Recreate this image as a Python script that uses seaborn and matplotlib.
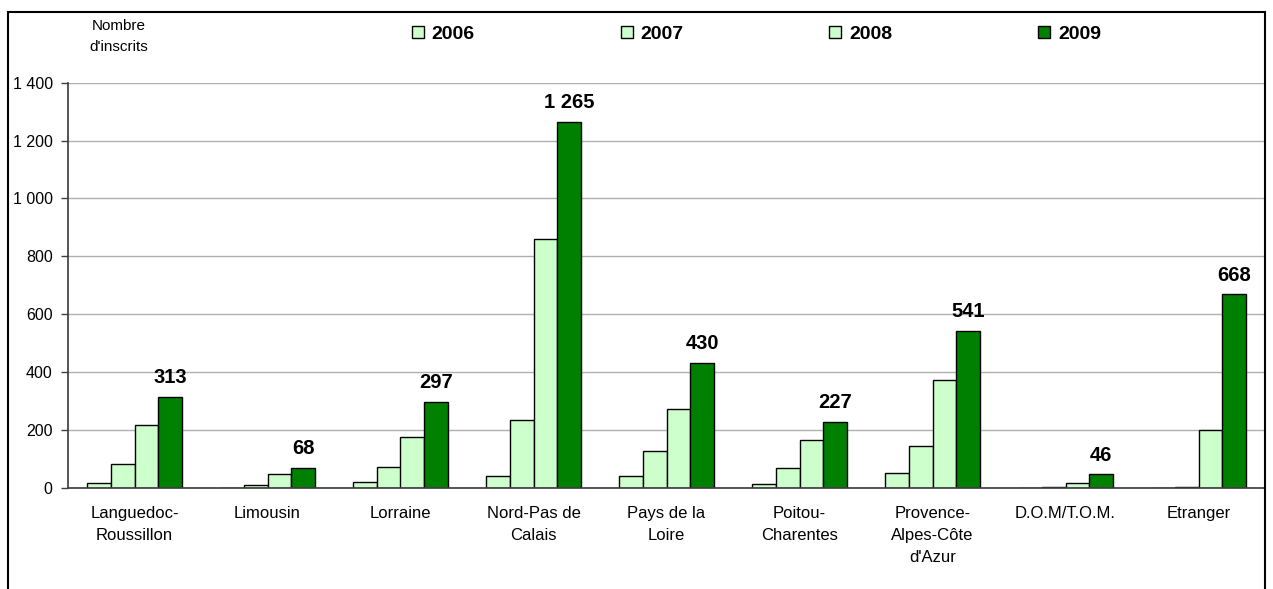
import numpy as np
import pandas as pd
import matplotlib
matplotlib.use('Agg')
import matplotlib.pyplot as plt
from matplotlib.patches import Rectangle
from matplotlib.ticker import FuncFormatter, FixedLocator
import seaborn as sns

regions = ["Languedoc-\nRoussillon", "Limousin", "Lorraine", "Nord-Pas de\nCalais",
           "Pays de la\nLoire", "Poitou-\nCharentes", "Provence-\nAlpes-Côte\nd'Azur",
           "D.O.M/T.O.M.", "Etranger"]
years = ["2006", "2007", "2008", "2009"]
v2006 = [15, 0, 21, 40, 40, 14, 52, 0, 0]
v2007 = [82, 9, 71, 233, 127, 67, 145, 3, 3]
v2008 = [218, 46, 175, 859, 272, 165, 372, 15, 200]
v2009 = [313, 68, 297, 1265, 430, 227, 541, 46, 668]
yticks = [0, 200, 400, 600, 800, 1000, 1200, 1400]

light = "#CCFFCC"
dark = "#008000"

sns.set_theme(style="white")
plt.rcParams['font.family'] = ['Liberation Sans', 'DejaVu Sans']
plt.rcParams['text.color'] = 'black'
plt.rcParams['xtick.labelcolor'] = 'black'
plt.rcParams['ytick.labelcolor'] = 'black'

rows = []
for year, vals in zip(years, [v2006, v2007, v2008, v2009]):
    for reg, v in zip(regions, vals):
        rows.append({'region': reg, 'year': year, 'n': v})
df = pd.DataFrame(rows)

fig = plt.figure(figsize=(12.73, 5.89), dpi=100)
ax = fig.add_axes([68 / 1273, 1 - 487.7 / 589, (1265 - 68) / 1273, (487.7 - 82.7) / 589])

sns.barplot(data=df, x='region', y='n', hue='year', order=regions, hue_order=years,
            palette=[light, light, light, dark], width=0.72, gap=0,
            edgecolor='black', linewidth=1.0, saturation=1, errorbar=None, ax=ax)

ax.set_ylim(0, 1400)
ax.set_xlim(-0.5, len(regions) - 0.5)
ax.yaxis.set_major_locator(FixedLocator(yticks))
ax.yaxis.set_major_formatter(FuncFormatter(lambda v, p: f"{int(v):,}".replace(",", " ")))
ax.grid(axis='y', color='#b0b0b0', linewidth=1)
ax.set_axisbelow(True)
ax.set_xlabel("")
ax.set_ylabel("")

# category boundaries as ticks, names in the middle
ax.set_xticks(np.arange(len(regions)))
ax.set_xticklabels(regions, fontsize=12, linespacing=1.58, va='top')
ax.set_xticks(np.arange(-0.5, len(regions)), minor=True)
ax.tick_params(axis='x', which='major', length=0, pad=13)
ax.tick_params(axis='x', which='minor', length=5, width=1, color='#404040', direction='out')
ax.tick_params(axis='y', length=5, width=1, color='#404040', direction='out', left=True, labelsize=11.5, pad=6)

for s in ['top', 'right']:
    ax.spines[s].set_visible(False)
ax.spines['left'].set_color('#404040')
ax.spines['bottom'].set_color('#404040')

# values above the 2009 bars
bars09 = ax.containers[3]
for rect, v in zip(bars09, v2009):
    ax.annotate(f"{v:,}".replace(",", " "), (rect.get_x() + rect.get_width() / 2, v),
                xytext=(0, 10), textcoords='offset points', ha='center', va='baseline',
                fontsize=14.5, fontweight='bold')

handles, labels = ax.get_legend_handles_labels()
ax.legend(handles, labels, ncol=4, loc='center left', bbox_to_anchor=(402 / 1273, 1 - 34.5 / 589),
          bbox_transform=fig.transFigure, frameon=False, borderpad=0, handlelength=0.62,
          handleheight=0.52, handletextpad=0.4, columnspacing=7.5,
          prop={'weight': 'bold', 'size': 14})

fig.text(119 / 1273, 1 - 26 / 589, "Nombre", ha='center', va='center', fontsize=11)
fig.text(119 / 1273, 1 - 47 / 589, "d'inscrits", ha='center', va='center', fontsize=11)

fig.patches.append(Rectangle((7.5 / 1273, -0.1), (1265 - 7.5) / 1273, 1.1 - 12 / 589,
                             transform=fig.transFigure, fill=False, edgecolor='black', linewidth=1.5))

fig.savefig('out.png', dpi=100)
